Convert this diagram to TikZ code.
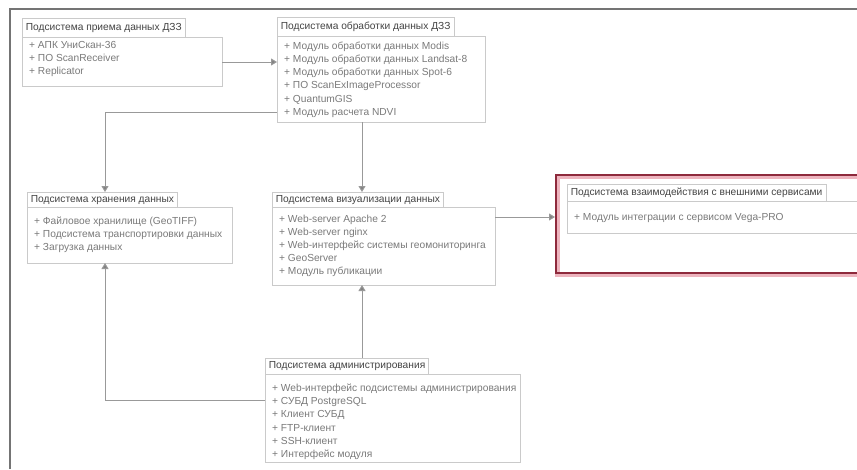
\documentclass[tikz,border=0pt]{standalone}
\usepackage{fontspec}
\setmainfont{Liberation Sans}
\usetikzlibrary{arrows.meta}
\definecolor{boxline}{HTML}{CACACA}
\definecolor{wire}{HTML}{999999}
\definecolor{itemtext}{HTML}{7A7A7A}
\definecolor{titletext}{HTML}{444444}
\definecolor{frameline}{HTML}{747474}
\definecolor{alertred}{HTML}{8E2A3C}
\definecolor{alerthalo}{HTML}{EDB4BE}

\begin{document}
\begin{tikzpicture}[x=1pt,y=-1pt,
  body/.style={draw=boxline, line width=0.8pt, fill=white, anchor=north west, inner sep=0pt},
  tab/.style={draw=boxline, line width=0.8pt, fill=white, anchor=north west,
    inner xsep=3.5pt, inner ysep=0pt, text=titletext, font=\fontsize{10.2}{12}\selectfont},
  items/.style={anchor=north west, align=left, text=itemtext, inner sep=0pt,
    font=\fontsize{10.2}{13.1}\selectfont},
  wirearrow/.style={draw=wire, line width=1pt, -{Triangle[length=6pt,width=7pt,fill=wire!85!black]}},
]
\useasboundingbox (0,0) rectangle (857,469);
\clip (0,0) rectangle (857,469);

% outer frame
\draw[frameline, line width=1.6pt] (10,469) -- (10,9) -- (860,9);

% receiving subsystem
\node[body, minimum width=200pt, minimum height=49pt] (b1) at (22,37) {};
\node[tab, minimum height=19pt] (t1) at (22,18) {Подсистема приема данных ДЗЗ};
\node[items] (i1) at (29,41) {+ АПК УниСкан-36\\+ ПО ScanReceiver\\+ Replicator};

% processing subsystem
\node[body, minimum width=208pt, minimum height=86pt] (b2) at (277,36) {};
\node[tab, minimum height=19pt] (t2) at (277,17) {Подсистема обработки данных ДЗЗ};
\node[items] (i2) at (284,42) {+ Модуль обработки данных Modis\\+ Модуль обработки данных Landsat-8\\+ Модуль обработки данных Spot-6\\+ ПО ScanExImageProcessor\\+ QuantumGIS\\+ Модуль расчета NDVI};

% storage subsystem
\node[body, minimum width=205pt, minimum height=56pt] (b3) at (27,207) {};
\node[tab, minimum height=15pt] (t3) at (27,192) {Подсистема хранения данных};
\node[items] (i3) at (34,217) {+ Файловое хранилище (GeoTIFF)\\+ Подсистема транспортировки данных\\+ Загрузка данных};

% visualisation subsystem
\node[body, minimum width=223pt, minimum height=78pt] (b4) at (272,207) {};
\node[tab, minimum height=15pt] (t4) at (272,192) {Подсистема визуализации данных};
\node[items] (i4) at (279,215) {+ Web-server Apache 2\\+ Web-server nginx\\+ Web-интерфейс системы геомониторинга\\+ GeoServer\\+ Модуль публикации};

% external services subsystem (highlighted)
\node[draw=alerthalo, line width=4.5pt, anchor=north west, inner sep=0pt,
  minimum width=320pt, minimum height=98pt] (f5) at (555,174) {};
\node[draw=alertred, line width=1.8pt, anchor=north west, inner sep=0pt,
  minimum width=320pt, minimum height=98pt] (r5) at (555,174) {};
\node[body, minimum width=310pt, minimum height=32pt] (b5) at (567,201) {};
\node[tab, minimum height=17pt] (t5) at (567,184) {Подсистема взаимодействия с внешними сервисами};
\node[items] (i5) at (574,213) {+ Модуль интеграции с сервисом Vega-PRO};

% administration subsystem
\node[body, minimum width=255pt, minimum height=88pt] (b6) at (265,374) {};
\node[tab, minimum height=16pt] (t6) at (265,358) {Подсистема администрирования};
\node[items] (i6) at (272,384) {+ Web-интерфейс подсистемы администрирования\\+ СУБД PostgreSQL\\+ Клиент СУБД\\+ FTP-клиент\\+ SSH-клиент\\+ Интерфейс модуля};

% connectors
\coordinate (j12) at (222,62);
\coordinate (j23) at (277,112);
\coordinate (j24) at (362,122);
\coordinate (k4) at (362,192);
\coordinate (k3) at (105,192);
\coordinate (j45) at (495,217);
\coordinate (j64) at (362,358);
\coordinate (m4) at (362,285);
\coordinate (j63) at (265,400);
\coordinate (m3) at (105,263);

\draw[wirearrow] (j12) -- (j12 -| b2.west);
\draw[wirearrow] (j23) -| (k3);
\draw[wirearrow] (j24) -- (k4);
\draw[wirearrow] (j45) -- (j45 -| r5.west);
\draw[wirearrow] (j64) -- (m4);
\draw[wirearrow] (j63) -| (m3);
\end{tikzpicture}
\end{document}
